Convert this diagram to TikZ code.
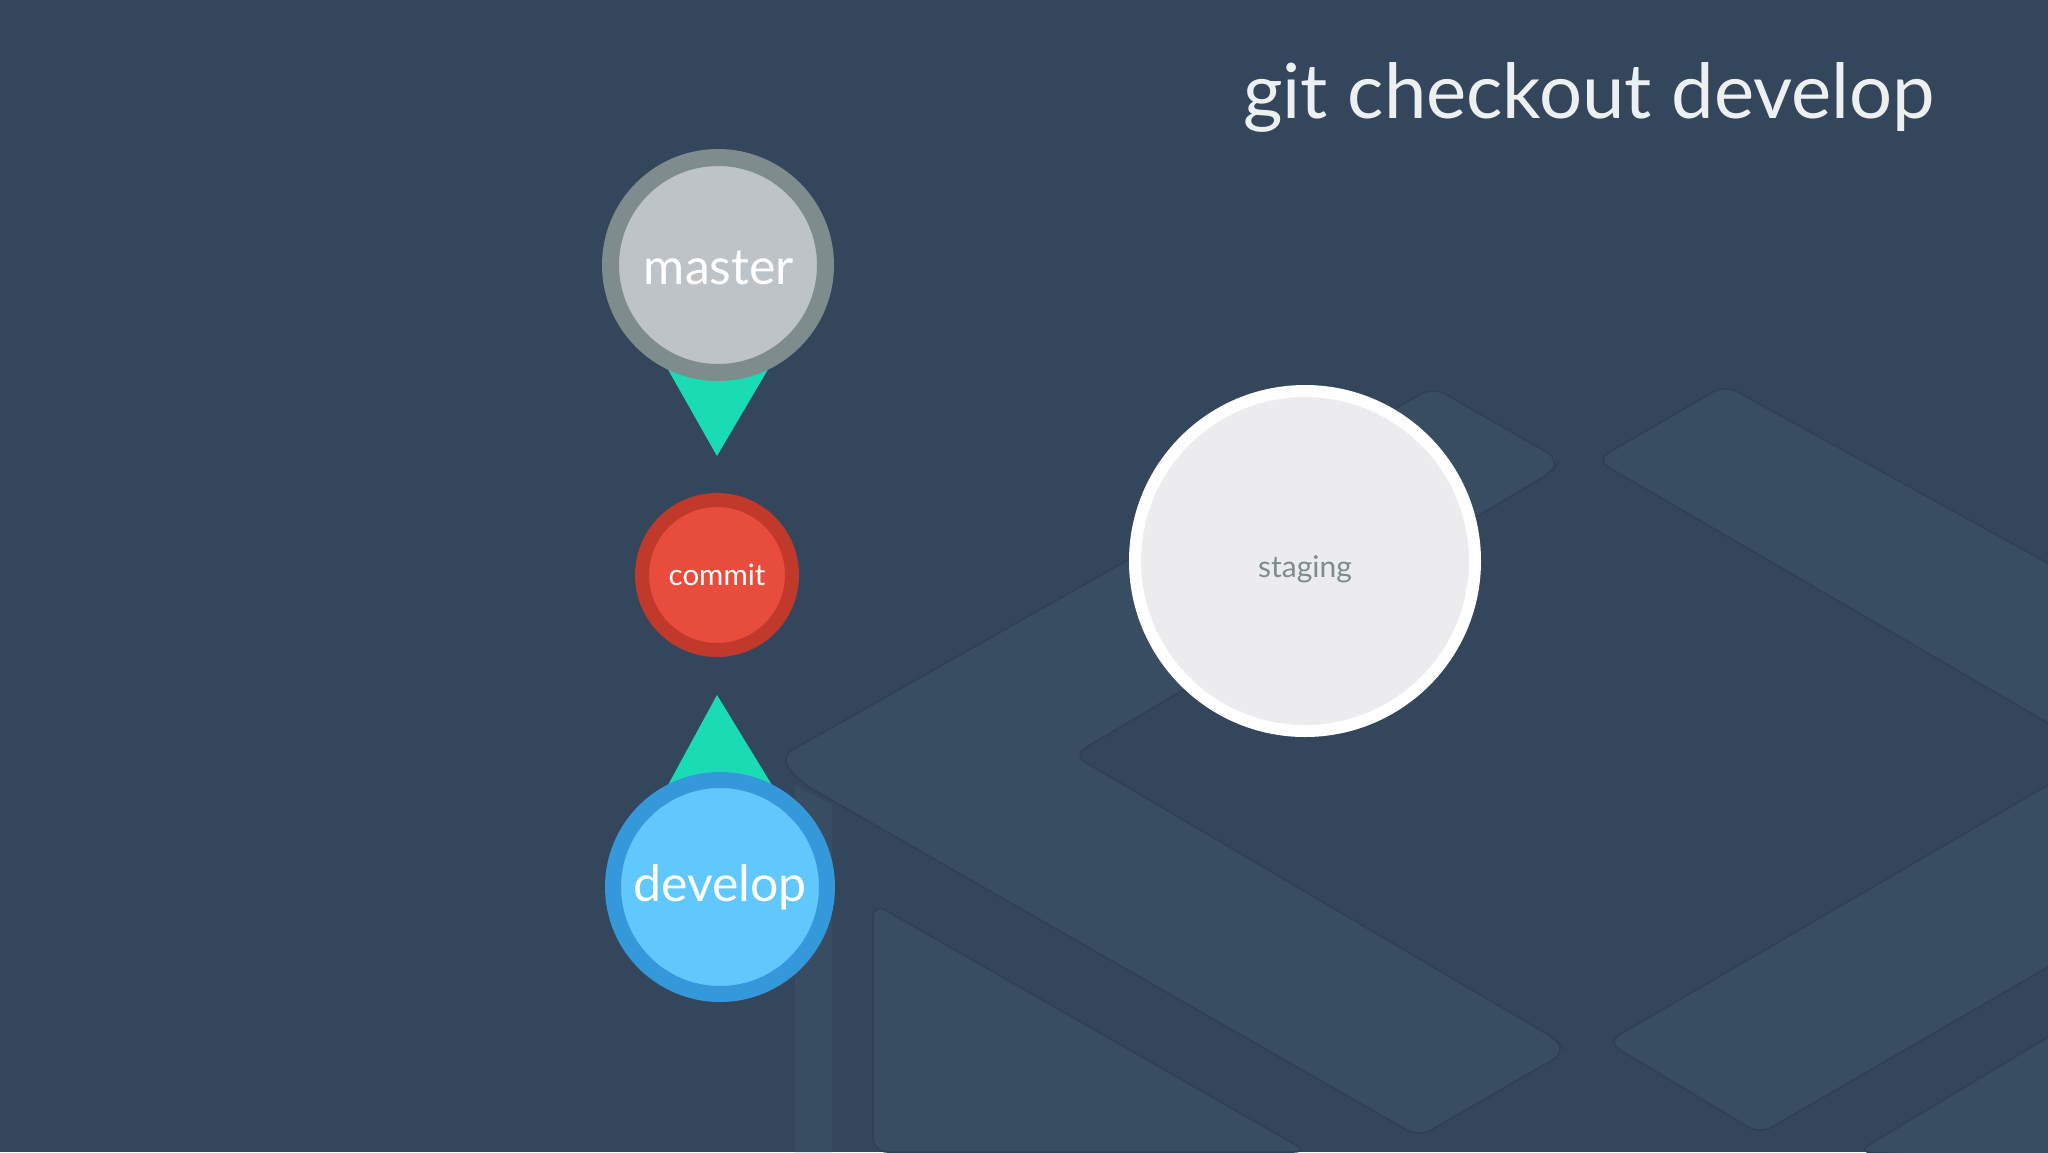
\documentclass[tikz,border=0pt]{standalone}
\usepackage{fontspec}
\setmainfont{Lato}
\usetikzlibrary{calc}
\definecolor{bgc}{HTML}{34465B}
\definecolor{panelc}{HTML}{394D62}
\definecolor{edgec}{HTML}{2F4054}
\definecolor{mring}{HTML}{7F8C8D}
\definecolor{mfill}{HTML}{BDC3C7}
\definecolor{cring}{HTML}{C0392B}
\definecolor{cfill}{HTML}{E74C3C}
\definecolor{dring}{HTML}{3498DB}
\definecolor{dfill}{HTML}{60C8FC}
\definecolor{tric}{HTML}{19DBB4}
\definecolor{stfill}{HTML}{ECECEF}
\definecolor{sttext}{HTML}{7F8C8D}
\definecolor{titlec}{HTML}{ECF0F1}
\pgfdeclarelayer{bglayer}
\pgfdeclarelayer{trilayer}
\pgfsetlayers{bglayer,trilayer,main}
\begin{document}
\begin{tikzpicture}[x=1pt,y=-1pt,
  panel/.style={fill=panelc, draw=edgec, line width=1.5pt, rounded corners=14pt},
  ptr/.style={circle, inner sep=0pt, outer sep=0pt, text=white},
  bigfont/.style={font=\fontsize{50}{58}\selectfont},
  smallfont/.style={font=\fontsize{29.5}{36}\selectfont},
  tri/.style={fill=tric}
]
\useasboundingbox (0,0) rectangle (2048,1152);
\begin{pgfonlayer}{bglayer}
\fill[bgc] (0,0) rectangle (2048,1152);
% big light slab
\path[panel] (780,757) -- (1433,387) -- (1560,460) -- (1552,472) -- (1073,755)
  -- (1557,1040) -- (1566,1052) -- (1419,1137) -- (800,782) -- cycle;
% vertical side strip
\path[panel, rounded corners=0pt, draw=none] (795,785) -- (832,805) -- (832,1152) -- (795,1152) -- cycle;
% lower left bar
\path[panel] (873,903) -- (1308,1152) -- (873,1152) -- cycle;
% upper right bar
\path[panel] (1596,460) -- (1725,385) -- (2060,570) -- (2060,730) -- cycle;
% lower right bar
\path[panel] (1607,1042) -- (2060,778) -- (2060,960) -- (1760,1134) -- cycle;
% bottom right bar
\path[panel] (1857,1152) -- (2060,1030) -- (2060,1160) -- cycle;
\end{pgfonlayer}

\node[ptr, fill=mfill, draw=mring, line width=17pt, minimum size=215pt] (master) at (718,265) {};
\node[inner sep=0pt, text=white, bigfont] (masterlabel) at ($(master.center)+(1,3)$) {master};
\node[ptr, smallfont, fill=cfill, draw=cring, line width=14pt, minimum size=150pt] (commit) at (717,575) {commit};
\node[ptr, bigfont, fill=dfill, draw=dring, line width=16pt, minimum size=214pt] (develop) at (720,887) {develop};
\node[ptr, fill=stfill, draw=white, line width=12pt, minimum size=340pt] (staging) at (1305,561) {};
\node[inner sep=0pt, text=sttext, font=\fontsize{30}{36}\selectfont] (staginglabel) at ($(staging.center)+(0,8)$) {staging};

\begin{pgfonlayer}{trilayer}
\fill[tri] ($(commit.center)+(0,-119)$) -- ($(master.center)+(-52,101)$) -- ($(master.center)+(52,101)$) -- cycle;
\fill[tri] ($(commit.center)+(0,120)$) -- ($(develop.center)+(-52,-102)$) -- ($(develop.center)+(52,-102)$) -- cycle;
\end{pgfonlayer}

\node[anchor=base west, inner sep=0pt, text=titlec, font=\fontsize{76}{90}\selectfont] (title) at (1243,118) {git checkout develop};
\end{tikzpicture}
\end{document}
